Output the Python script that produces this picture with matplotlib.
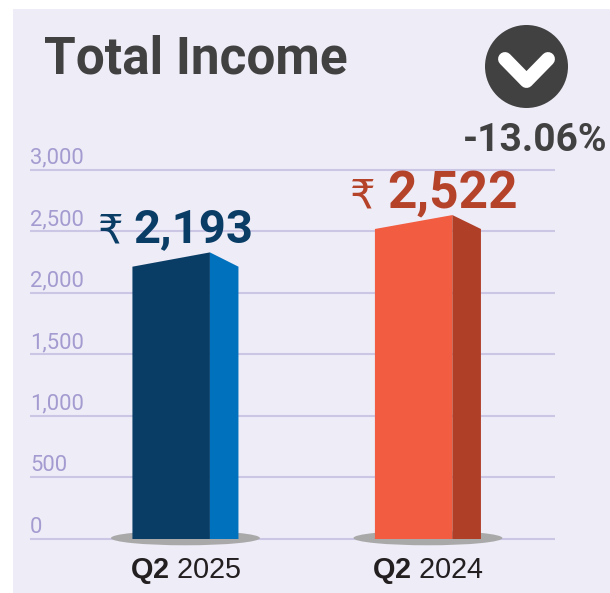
import matplotlib
matplotlib.use("Agg")
import matplotlib.pyplot as plt
from matplotlib.lines import Line2D
from matplotlib.patches import Ellipse, Rectangle
from matplotlib.transforms import IdentityTransform, ScaledTranslation

# ==========================================
# Data
# ==========================================
categories = ["Q2 2025", "Q2 2024"]
values = [2193, 2522]
bar_edge = [2211, 2517]   # height at the outer corners of the 3D block
bar_apex = [2327, 2630]   # height at the front/side ridge
y_ticks = [0, 500, 1000, 1500, 2000, 2500, 3000]
change_label = "-13.06%"
title = "Total Income"

front_colors = ["#0a3d66", "#f25c40"]
side_colors = ["#0071bd", "#b03f28"]
value_colors = ["#0a3d66", "#b5432a"]

W, H = 610, 593
plt.rcParams["font.family"] = ["Roboto", "DejaVu Sans"]
plt.rcParams["mathtext.fontset"] = "custom"
plt.rcParams["mathtext.bf"] = "Liberation Sans:bold"
plt.rcParams["mathtext.rm"] = "Liberation Sans"

fig = plt.figure(figsize=(W / 100, H / 100), dpi=100, facecolor="white")


def py(y):
    # pixel row from the top -> display coords
    return H - y


def ftext(x, y, s, **kw):
    return fig.text(x / W, py(y) / H, s, **kw)


# background panel
fig.add_artist(Rectangle((13, py(593)), 597, 584, transform=IdentityTransform(),
                         facecolor="#eeecf7", edgecolor="none", zorder=-5))

# ==========================================
# Axes
# ==========================================
ax = fig.add_axes([30 / W, py(539) / H, 525 / W, 369.5 / H])
ax.patch.set_alpha(0)
ax.set_ylim(0, 3000)
ax.set_xlim(-0.641, 1.524)
for s in ax.spines.values():
    s.set_visible(False)

ax.set_yticks(y_ticks)
ax.set_yticklabels([f"{t:,}" for t in y_ticks], fontsize=15.8, color="#a49bd0")
ax.tick_params(axis="y", length=0, pad=0)
lift = ScaledTranslation(0, 1 / 100, fig.dpi_scale_trans)
for lab in ax.get_yticklabels():
    lab.set_horizontalalignment("left")
    lab.set_verticalalignment("bottom")
    lab.set_transform(lab.get_transform() + lift)
ax.grid(axis="y", color="#cbc6e3", linewidth=1.5, zorder=1, clip_on=False,
        solid_capstyle="butt")
ax.set_axisbelow(True)

parts = [c.split() for c in categories]
ax.set_xticks(range(len(categories)))
ax.set_xticklabels([rf"$\mathbf{{{a}}}$ {b}" for a, b in parts], fontsize=20.8,
                   color="#231f20", family="Liberation Sans")
ax.tick_params(axis="x", length=0, pad=12)

# ==========================================
# Bars
# ==========================================
half = 0.2186
ridge = 0.101
for i, (edge, apex) in enumerate(zip(bar_edge, bar_apex)):
    ax.add_patch(Ellipse((i, 8), 0.614, 118, facecolor="#a9a9a9", edgecolor="none",
                         zorder=2, clip_on=False))
    ax.fill([i - half, i + ridge, i + ridge, i - half], [0, 0, apex, edge],
            color=front_colors[i], linewidth=0, zorder=3)
    ax.fill([i + ridge, i + half, i + half, i + ridge], [0, 0, edge, apex],
            color=side_colors[i], linewidth=0, zorder=3)

# ==========================================
# Text and badge
# ==========================================
ftext(44, 73, title, fontsize=37, fontweight="bold", color="#414141", va="baseline")

number_x = [193.5, 453]
number_base = [242.5, 208]
number_size = [34, 37]
rupee_x = [111, 363]
for i, v in enumerate(values):
    ftext(number_x[i], number_base[i], f"{v:,}", fontsize=number_size[i], fontweight="bold",
          color=value_colors[i], ha="center", va="baseline")
    ftext(rupee_x[i], number_base[i], "\u20b9", fontsize=29, color=value_colors[i],
          ha="center", va="baseline", family=["DejaVu Sans"])

fig.add_artist(Ellipse((526.5, py(66.5)), 83, 83, transform=IdentityTransform(),
                       facecolor="#414141", edgecolor="none", zorder=3))
fig.add_artist(Line2D([505, 526.5, 548], [py(59), py(81), py(59)],
                      transform=IdentityTransform(), color="white", linewidth=10,
                      solid_capstyle="round", solid_joinstyle="round", zorder=4))
ftext(535.5, 151, change_label, fontsize=28, fontweight="bold", color="#414141",
      ha="center", va="baseline")

fig.savefig("out.png", dpi=100, facecolor="white")
